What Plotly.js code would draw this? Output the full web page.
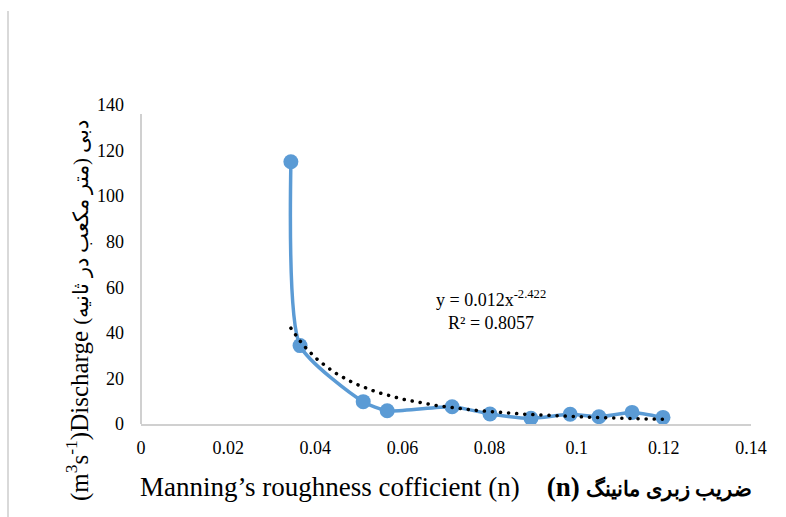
<!DOCTYPE html>
<html>
<head>
<meta charset="utf-8">
<script src="https://cdn.plot.ly/plotly-3.0.1.min.js"></script>
<style>html,body{margin:0;padding:0;background:#fff;}#chart{width:786px;height:517px;}</style>
</head>
<body>
<div id="chart"></div>
<script>
// Manning's roughness coefficient (n) and discharge (m3/s)
const manningN  = [0.0344, 0.0365, 0.0510, 0.0565, 0.0714, 0.0801, 0.0895, 0.0985, 0.1051, 0.1127, 0.1198];
const discharge = [115.1, 34.4, 9.8, 5.8, 7.6, 4.4, 2.5, 4.3, 3.2, 5.1, 2.9];

// Power trendline shown on the chart: y = a * x^b
const trendA = 0.012;
const trendB = -2.422;
const trendR2 = 0.8057;
const trendStart = 0.0344, trendEnd = 0.1198, trendSteps = 80;

const xTickVals = [0, 0.02, 0.04, 0.06, 0.08, 0.1, 0.12, 0.14];
const xTickText = ['0', '0.02', '0.04', '0.06', '0.08', '0.1', '0.12', '0.14'];
const yTickVals = [0, 20, 40, 60, 80, 100, 120, 140];

const xTitleEn = 'Manning’s roughness cofficient (n)';
const xTitleN  = '(n)';
const xTitleFa = 'ضریب زبری مانینگ';
const yTitleEn = '(m<sup>3</sup>s<sup>-1</sup>)Discharge';
const yTitleFa = 'دبی (متر مکعب در ثانیه)';

const trendX = [], trendY = [];
for (let i = 0; i <= trendSteps; i++) {
  const x = trendStart + (trendEnd - trendStart) * i / trendSteps;
  trendX.push(x);
  trendY.push(trendA * Math.pow(x, trendB));
}

const serif = '"Liberation Serif", "Times New Roman", serif';
const NB = '\u00A0';

const traces = [
  {
    x: manningN, y: discharge, type: 'scatter', mode: 'lines+markers',
    line: {color: '#5B9BD5', width: 3.5, shape: 'spline', smoothing: 0.6},
    marker: {color: '#5B9BD5', size: 15},
    hoverinfo: 'x+y', showlegend: false
  },
  {
    x: trendX, y: trendY, type: 'scatter', mode: 'lines',
    line: {color: '#000000', width: 3.5, dash: 'dot'},
    hoverinfo: 'skip', showlegend: false
  }
];

const layout = {
  width: 786, height: 517,
  margin: {l: 141, r: 35, t: 105, b: 93},
  paper_bgcolor: '#ffffff', plot_bgcolor: '#ffffff',
  font: {family: serif, color: '#000000', size: 18},
  showlegend: false,
  xaxis: {
    range: [0, 0.14], tickvals: xTickVals, ticktext: xTickText,
    showgrid: false, zeroline: false, showline: true, linecolor: '#d0d0d0', linewidth: 2,
    ticks: '', ticklabelstandoff: 6,
    tickfont: {family: serif, size: 18, color: '#000'},
    title: {text: xTitleEn + NB + NB + NB + ' <b>' + xTitleN + ' <span style="font-size:21px">' + xTitleFa + '</span></b>',
            font: {family: serif, size: 27, color: '#000'}, standoff: 21}
  },
  yaxis: {
    range: [0, 140], tickvals: yTickVals,
    showgrid: false, zeroline: false, showline: false,
    ticks: '', ticklabelstandoff: 16,
    tickfont: {family: serif, size: 18, color: '#000'}
  },
  shapes: [
    {type: 'line', xref: 'x domain', yref: 'y domain', x0: 0, x1: 0, y0: 0, y1: 0.972,
     line: {color: '#d0d0d0', width: 2}},
    {type: 'line', xref: 'paper', yref: 'paper', x0: -0.218, x1: -0.218, y0: -0.3, y1: 1.2947,
     line: {color: '#d9d9d9', width: 2}}
  ],
  annotations: [
    {xref: 'paper', yref: 'paper', x: (491 - 141) / 610, y: (424 - 310) / 319,
     text: 'y = ' + trendA + 'x<sup>' + trendB + '</sup><br>R² = ' + trendR2,
     showarrow: false, align: 'center', font: {family: serif, size: 18, color: '#000'}},
    {xref: 'paper', yref: 'paper', x: (77 - 141) / 610, y: (424 - 311) / 319,
     xanchor: 'center', yanchor: 'middle',
     text: yTitleEn + ' <span style="font-size:21px">' + yTitleFa + '</span>',
     textangle: -90, showarrow: false, font: {family: serif, size: 25, color: '#000'}}
  ]
};

Plotly.newPlot('chart', traces, layout, {displayModeBar: false, responsive: false}).then(function (gd) {
  const paths = gd.querySelectorAll('.scatterlayer .trace')[1].querySelectorAll('path.js-line');
  paths.forEach(function (p) {
    p.style.strokeDasharray = '0.1px,8px';
    p.style.strokeLinecap = 'round';
  });
});
</script>
</body>
</html>
